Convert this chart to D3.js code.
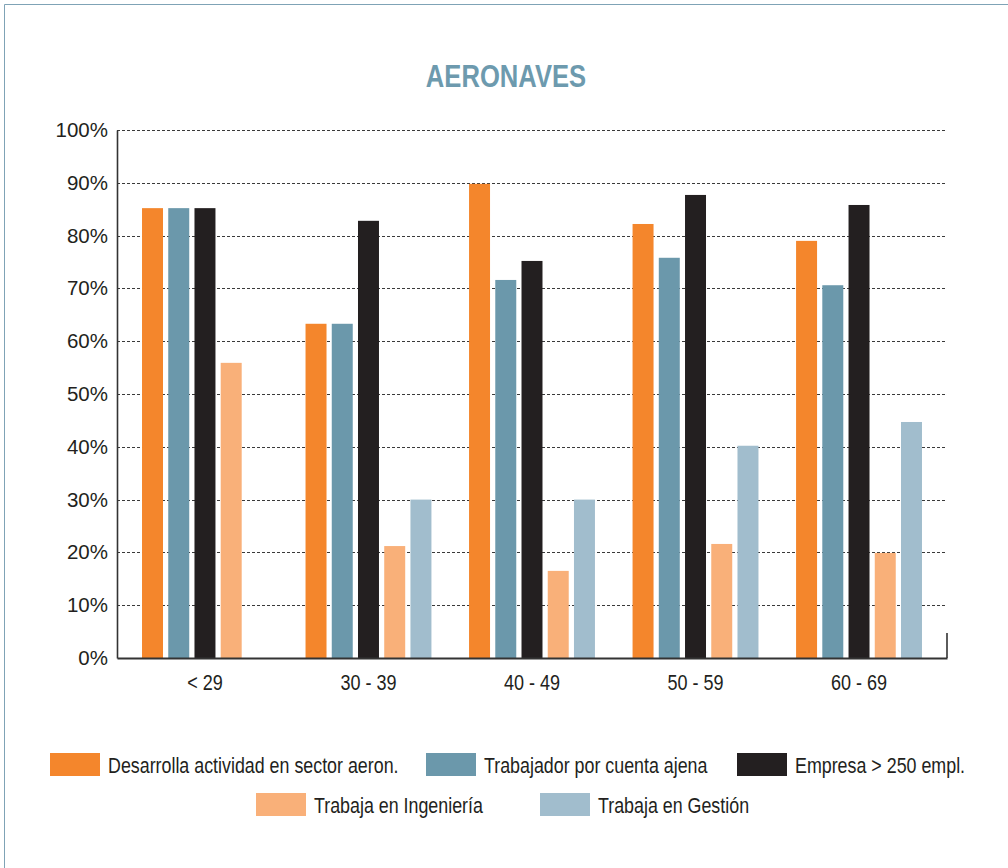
<!DOCTYPE html>
<html>
<head>
<meta charset="utf-8">
<script src="https://cdn.jsdelivr.net/npm/d3@7"></script>
<style>
  html, body { margin: 0; padding: 0; background: #fff; }
  svg { display: block; }
</style>
</head>
<body>
<svg id="chart" width="1008" height="868"></svg>
<script>
// Age groups and the share (%) of each profile within them
const categories = ["< 29", "30 - 39", "40 - 49", "50 - 59", "60 - 69"];
const seriesNames = [
  "Desarrolla actividad en sector aeron.",
  "Trabajador por cuenta ajena",
  "Empresa > 250 empl.",
  "Trabaja en Ingeniería",
  "Trabaja en Gestión"
];
const desarrolla   = [85.2, 63.3, 89.8, 82.2, 79.0];
const cuentaAjena  = [85.2, 63.3, 71.6, 75.8, 70.6];
const empresa250   = [85.2, 82.8, 75.2, 87.7, 85.8];
const ingenieria   = [55.9, 21.2, 16.5, 21.6, 19.9];
const gestion      = [null, 30.0, 30.0, 40.2, 44.7];
const yTicks = [0, 10, 20, 30, 40, 50, 60, 70, 80, 90, 100];
const colors = ["#f4862c", "#6b98ab", "#231f20", "#f9b079", "#a1bdcd"];

const seriesValues = [desarrolla, cuentaAjena, empresa250, ingenieria, gestion];

(function () {
  const svg = d3.select("#chart");
  const FONT = "'Liberation Sans', Arial, sans-serif";
  // condensed look for title, category labels and legend
  const narrow = "scale(0.82,1)";

  // Frame lines
  svg.append("line").attr("x1", 4.5).attr("x2", 1008).attr("y1", 4.5).attr("y2", 4.5)
    .attr("stroke", "#7fa3b6").attr("stroke-width", 1);
  svg.append("line").attr("x1", 4.5).attr("x2", 4.5).attr("y1", 4.5).attr("y2", 868)
    .attr("stroke", "#7fa3b6").attr("stroke-width", 1);

  // Title
  svg.append("text")
    .attr("transform", "translate(506,87) scale(0.826,1)")
    .attr("text-anchor", "middle")
    .attr("font-family", FONT)
    .attr("font-weight", "bold")
    .attr("font-size", 31)
    .attr("fill", "#6d9aae")
    .text("AERONAVES");

  const plotLeft = 117, plotRight = 947, plotTop = 130, plotBottom = 658;

  const y = d3.scaleLinear().domain([0, 100]).range([plotBottom, plotTop]);
  const x0 = d3.scaleBand().domain(categories).range([plotLeft, plotRight])
    .paddingInner(0.23).paddingOuter(0.153);
  const x1 = d3.scaleBand().domain(seriesNames).range([0, x0.bandwidth()])
    .paddingInner(0.2).paddingOuter(0);

  // Dashed gridlines
  svg.append("g").selectAll("line")
    .data(yTicks.filter(t => t > 0))
    .join("line")
    .attr("x1", plotLeft).attr("x2", plotRight)
    .attr("y1", d => Math.round(y(d)) + 0.5).attr("y2", d => Math.round(y(d)) + 0.5)
    .attr("stroke", "#3a3a3a")
    .attr("stroke-width", 1)
    .attr("stroke-dasharray", "3,2");

  // Bars
  const groups = svg.append("g").selectAll("g")
    .data(categories)
    .join("g")
    .attr("transform", d => `translate(${x0(d)},0)`);

  groups.selectAll("rect")
    .data((c, i) => seriesNames.map((s, k) => ({ s, k, v: seriesValues[k][i] })).filter(d => d.v != null))
    .join("rect")
    .attr("x", d => x1(d.s))
    .attr("width", x1.bandwidth())
    .attr("y", d => y(d.v))
    .attr("height", d => y(0) - y(d.v))
    .attr("fill", d => colors[d.k]);

  // Y axis
  const yAxis = d3.axisLeft(y).tickValues(yTicks).tickFormat(d => d + "%").tickSize(0).tickPadding(9);
  const gy = svg.append("g").attr("transform", `translate(${plotLeft},0)`).call(yAxis);
  gy.select(".domain").attr("stroke", "#333").attr("stroke-width", 1.6);
  gy.selectAll("text")
    .attr("font-family", FONT)
    .attr("font-size", 20.5)
    .attr("fill", "#231f20");

  // X axis
  const xAxis = d3.axisBottom(x0).tickSize(0).tickPadding(16);
  const gx = svg.append("g").attr("transform", `translate(0,${plotBottom})`).call(xAxis);
  gx.select(".domain").attr("stroke", "#333").attr("stroke-width", 1.8);
  gx.selectAll("text")
    .attr("font-family", FONT)
    .attr("font-size", 22)
    .attr("fill", "#231f20")
    .attr("transform", narrow);
  svg.append("line").attr("x1", plotRight).attr("x2", plotRight)
    .attr("y1", plotBottom).attr("y2", plotBottom - 25)
    .attr("stroke", "#333").attr("stroke-width", 1.6);

  // Legend
  const legendPos = [
    { x: 50, y: 753 }, { x: 426, y: 753 }, { x: 737, y: 753 },
    { x: 256, y: 793 }, { x: 540, y: 793 }
  ];
  const legend = svg.append("g").selectAll("g")
    .data(seriesNames)
    .join("g")
    .attr("transform", (d, i) => `translate(${legendPos[i].x},${legendPos[i].y})`);
  legend.append("rect")
    .attr("width", 50).attr("height", 23)
    .attr("fill", (d, i) => colors[i]);
  legend.append("text")
    .attr("transform", "translate(58,20) scale(0.83,1)")
    .attr("font-family", FONT)
    .attr("font-size", 21.5)
    .attr("fill", "#231f20")
    .text(d => d);
})();
</script>
</body>
</html>
